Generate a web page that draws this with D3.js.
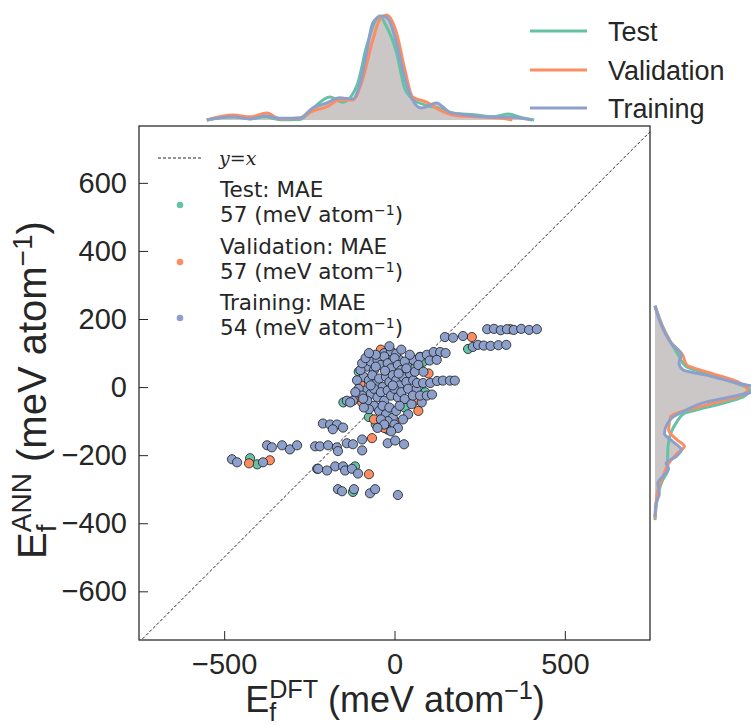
<!DOCTYPE html>
<html lang="en">
<head>
<meta charset="utf-8">
<title>ANN vs DFT formation energy</title>
<script type="text/javascript" src="https://cdn.jsdelivr.net/npm/d3@7"></script>
<style>
  body { margin: 0; background: #fff; }
  svg { display: block; }
</style>
</head>
<body>
<div id="chart"></div>
<script type="text/javascript">
// series names and colours (Set2)
const seriesNames = ["Test", "Validation", "Training"];
const seriesColors = ["#66c2a5", "#fc8d62", "#8da0cb"];
const maeValues = [57, 57, 54];

const xTicks = [-500, 0, 500];
const yTicks = [-600, -400, -200, 0, 200, 400, 600];

// scatter points, [E_DFT, E_ANN] in meV/atom
const testPoints = [
  [-424, -209], [-403, -227], [-116, -233], [-122, -308], [84, 74], [216, 112],
  [-100, 15], [-55, -110], [50, 60], [-20, -125], [-150, -45], [30, -60],
  [-105, 45], [90, -15], [-75, -88]
];
const validationPoints = [
  [-427, -224], [-366, -215], [-75, -256], [-34, 95], [75, 89], [227, 147],
  [-66, -150], [-95, -45], [-60, -95], [-30, -120], [60, -40], [-100, 10],
  [340, 170], [0, -100], [-112, -30], [70, -70], [-40, 110], [100, 40]
];
const trainingPoints = [
  // upper right strings
  [148, 147], [172, 145], [201, 150], [230, 118], [245, 124],
  [272, 170], [292, 171], [312, 167], [330, 170], [350, 168], [372, 171],
  [395, 168], [418, 170], [262, 122], [282, 121], [305, 123], [328, 124],
  // upper arm
  [-34, 95], [-20, 95], [-5, 90], [15, 80], [37, 68], [55, 80], [75, 88],
  [95, 95], [115, 103], [134, 103], [103, 78], [124, 80], [-30, 100],
  [-10, 105], [5, 98], [150, 100],
  // dense core
  [-80, 60], [-70, 75], [-60, 50], [-50, 80], [-40, 65], [-30, 90], [-20, 70],
  [-10, 55], [0, 85], [10, 65], [20, 50], [30, 75], [-90, 30], [-75, 20],
  [-65, 35], [-55, 10], [-45, 25], [-35, 0], [-25, 30], [-15, 15], [-5, 35],
  [5, 20], [15, 5], [25, 30], [35, 15], [45, 40], [-85, -10], [-70, -20],
  [-60, -5], [-50, -30], [-40, -15], [-30, -40], [-20, -10], [-10, -25],
  [0, -5], [10, -30], [20, -15], [30, -35], [40, -5], [-60, -55], [-45, -70],
  [-35, -55], [-25, -80], [-15, -60], [-5, -90], [5, -70], [15, -55],
  [-20, -100], [-40, -95], [0, -110], [-70, 5], [-5, 5], [12, 40], [-28, 48],
  [-100, 50], [-95, 70], [-85, 85], [-110, 20], [-105, -5], [-95, -25],
  [-80, -40], [-75, -65], [-90, -60], [55, 20], [60, 45], [65, -5],
  [50, -50], [40, -80], [25, -95], [10, -120], [-10, -130], [-30, -110],
  [-50, -120], [70, 65], [-55, 95], [-75, 100], [-15, 120], [20, 110],
  [45, 95], [85, 45], [80, -45], [-115, -15], [-55, 60], [35, 55],
  // right arm
  [66, 12], [84, 12], [105, 12], [125, 18], [142, 19], [163, 19], [177, 19],
  [54, -25], [75, -25], [95, -25], [110, -22],
  // left arm
  [-140, -40], [-122, -40], [-92, -34], [-130, -45],
  // lower groups
  [-210, -107], [-189, -110], [-169, -110], [-151, -119], [-181, -124],
  [-374, -171], [-360, -177], [-330, -171], [-307, -183], [-286, -171],
  [-233, -174], [-219, -174], [-195, -171], [-169, -177], [-140, -165],
  [-122, -168], [-95, -154], [-95, -186], [-166, -188], [-20, -165],
  [2, -157], [28, -168],
  [-477, -212], [-462, -221], [-386, -221],
  [-227, -240], [-224, -240], [-198, -245], [-174, -233], [-151, -233],
  [-145, -245], [-125, -240], [-107, -254],
  [-166, -300], [-154, -306], [-119, -300], [-72, -312], [-57, -300], [10, -317]
];

// marginal densities, [E, relative density]
const testTopKde = [
  [-551, 0], [-474, 0.03], [-424, 0.012], [-380, 0.03], [-336, 0.003], [-278, 0.005],
  [-240, 0.11], [-190, 0.22], [-152, 0.17], [-110, 0.33], [-82, 0.7], [-55, 0.95],
  [-44, 0.99], [-25, 0.9], [6, 0.64], [29, 0.31], [53, 0.2], [94, 0.14],
  [132, 0.11], [170, 0.067], [240, 0.048], [287, 0.03], [336, 0.057], [366, 0.03], [410, 0]
];
const validationTopKde = [
  [-551, 0], [-474, 0.048], [-424, 0.03], [-375, 0.067], [-336, 0.01], [-278, 0.019],
  [-240, 0.085], [-199, 0.124], [-161, 0.19], [-123, 0.19], [-94, 0.38], [-64, 0.76],
  [-41, 0.97], [-23, 1.0], [6, 0.83], [29, 0.5], [53, 0.22], [94, 0.17],
  [132, 0.095], [170, 0.048], [240, 0.03], [308, 0.02], [346, 0]
];
const trainingTopKde = [
  [-551, 0], [-474, 0.031], [-424, 0.01], [-380, 0.038], [-336, 0.016], [-278, 0.019],
  [-240, 0.114], [-199, 0.162], [-161, 0.212], [-123, 0.2], [-102, 0.333], [-82, 0.638],
  [-64, 0.924], [-38, 0.99], [-20, 0.97], [6, 0.733], [29, 0.41], [53, 0.19],
  [79, 0.114], [123, 0.162], [161, 0.076], [190, 0.057], [240, 0.038], [287, 0.029],
  [336, 0.029], [404, 0]
];
const testRightKde = [
  [239, 0], [180, 0.07], [130, 0.152], [91, 0.229], [62, 0.29], [36, 0.533],
  [7, 0.81], [-8, 0.9], [-27, 0.85], [-67, 0.4], [-77, 0.28], [-106, 0.2],
  [-136, 0.15], [-174, 0.124], [-214, 0.12], [-244, 0.12], [-273, 0.073],
  [-313, 0.03], [-391, 0]
];
const validationRightKde = [
  [239, 0], [198, 0.045], [159, 0.1], [130, 0.155], [95, 0.262], [66, 0.3],
  [41, 0.533], [12, 0.81], [-8, 0.88], [-27, 0.8], [-37, 0.69], [-62, 0.37],
  [-86, 0.15], [-126, 0.13], [-155, 0.21], [-174, 0.28], [-195, 0.21],
  [-224, 0.13], [-254, 0.086], [-303, 0.026], [-342, 0.01], [-386, 0]
];
const trainingRightKde = [
  [239, 0], [198, 0.041], [159, 0.095], [130, 0.152], [95, 0.248], [71, 0.229],
  [51, 0.264], [32, 0.533], [12, 0.78], [-5, 1.0], [-27, 0.75], [-47, 0.45],
  [-67, 0.3], [-86, 0.18], [-106, 0.12], [-136, 0.09], [-155, 0.15],
  [-185, 0.25], [-204, 0.2], [-224, 0.105], [-239, 0.13], [-260, 0.08],
  [-283, 0.026], [-313, 0.041], [-342, 0.01], [-381, 0]
];

function drawChart() {
  const w = 751;
  const h = 725;
  const ink = "#262626";
  const tickFont = "'Liberation Sans', Arial, sans-serif";

  const svg = d3.select("#chart")
    .append("svg")
    .attr("width", w)
    .attr("height", h);

  const xScale = d3.scaleLinear().domain([-750, 750]).range([139, 650]);
  const yScale = d3.scaleLinear().domain([-743, 767]).range([640, 126]);

  // marginal scales
  const topScale = d3.scaleLinear().domain([0, 1]).range([120, 15]);
  const rightScale = d3.scaleLinear().domain([0, 1]).range([655, 760]);

  const topSets = [testTopKde, validationTopKde, trainingTopKde];
  const rightSets = [testRightKde, validationRightKde, trainingRightKde];

  // top marginal
  const topArea = d3.area()
    .x((d) => xScale(d[0]))
    .y0(topScale(0))
    .y1((d) => topScale(d[1]))
    .curve(d3.curveMonotoneX);
  const topLine = d3.line()
    .x((d) => xScale(d[0]))
    .y((d) => topScale(d[1]))
    .curve(d3.curveMonotoneX);

  svg.append("path")
    .datum(trainingTopKde)
    .attr("d", topArea)
    .attr("fill", "#cbc7c7");

  svg.append("g")
    .selectAll("path")
    .data(topSets)
    .enter()
    .append("path")
      .attr("d", topLine)
      .attr("fill", "none")
      .attr("stroke", (d, i) => seriesColors[i])
      .attr("stroke-width", 3)
      .attr("stroke-linejoin", "round");

  // right marginal
  const rightArea = d3.area()
    .y((d) => yScale(d[0]))
    .x0(rightScale(0))
    .x1((d) => rightScale(d[1]))
    .curve(d3.curveMonotoneY);
  const rightLine = d3.line()
    .y((d) => yScale(d[0]))
    .x((d) => rightScale(d[1]))
    .curve(d3.curveMonotoneY);

  svg.append("path")
    .datum(trainingRightKde.slice().reverse())
    .attr("d", rightArea)
    .attr("fill", "#cbc7c7");

  svg.append("g")
    .selectAll("path")
    .data(rightSets.map((s) => s.slice().reverse()))
    .enter()
    .append("path")
      .attr("d", rightLine)
      .attr("fill", "none")
      .attr("stroke", (d, i) => seriesColors[i])
      .attr("stroke-width", 3)
      .attr("stroke-linejoin", "round");

  // main panel
  svg.append("clipPath")
    .attr("id", "main-area")
    .append("rect")
    .attr("x", 139)
    .attr("y", 126)
    .attr("width", 511)
    .attr("height", 514);

  svg.append("line")
    .attr("clip-path", "url(#main-area)")
    .attr("x1", xScale(-750)).attr("y1", yScale(-750))
    .attr("x2", xScale(767)).attr("y2", yScale(767))
    .attr("stroke", ink)
    .attr("stroke-width", 1)
    .attr("stroke-dasharray", "3,2");

  const pointSets = [testPoints, validationPoints, trainingPoints];
  pointSets.forEach((pts, i) => {
    svg.append("g")
      .attr("clip-path", "url(#main-area)")
      .selectAll("circle")
      .data(pts)
      .enter()
      .append("circle")
        .attr("cx", (d) => xScale(d[0]))
        .attr("cy", (d) => yScale(d[1]))
        .attr("r", 4.6)
        .attr("fill", seriesColors[i])
        .attr("stroke", "#1a1a1a")
        .attr("stroke-width", 0.8);
  });

  // axes
  const xAxis = d3.axisBottom(xScale)
    .tickValues(xTicks)
    .tickSizeInner(-9)
    .tickSizeOuter(0)
    .tickPadding(13)
    .tickFormat((d) => d < 0 ? "\u2212" + Math.abs(d) : d);
  const yAxis = d3.axisLeft(yScale)
    .tickValues(yTicks)
    .tickSizeInner(-9)
    .tickSizeOuter(0)
    .tickPadding(12)
    .tickFormat((d) => d < 0 ? "\u2212" + Math.abs(d) : d);

  const gx = svg.append("g")
    .attr("transform", "translate(0,640)")
    .call(xAxis);
  const gy = svg.append("g")
    .attr("transform", "translate(139,0)")
    .call(yAxis);

  [gx, gy].forEach((g) => {
    g.select(".domain").remove();
    g.selectAll(".tick line").attr("stroke", ink).attr("stroke-width", 1);
    g.selectAll(".tick text")
      .attr("fill", ink)
      .style("font-family", tickFont)
      .style("font-size", "29px");
  });

  // frame
  svg.append("rect")
    .attr("x", 139)
    .attr("y", 126)
    .attr("width", 511)
    .attr("height", 514)
    .attr("fill", "none")
    .attr("stroke", ink)
    .attr("stroke-width", 1.25);

  // axis labels with sub/superscripts
  function addLabel(sel, sup, fs) {
    sel.style("font-family", tickFont)
      .style("font-size", fs + "px")
      .attr("fill", ink);
    sel.append("tspan").text("E");
    sel.append("tspan").text("f")
      .style("font-size", (fs * 0.7) + "px")
      .attr("dy", fs * 0.26);
    sel.append("tspan").text(sup)
      .style("font-size", (fs * 0.7) + "px")
      .attr("dx", -fs * 0.7 * 0.278)
      .attr("dy", -fs * 0.64);
    sel.append("tspan").text(" (meV atom")
      .attr("dy", fs * 0.38);
    sel.append("tspan").text("\u22121")
      .style("font-size", (fs * 0.7) + "px")
      .attr("dy", -fs * 0.36);
    sel.append("tspan").text(")")
      .attr("dy", fs * 0.36);
  }

  addLabel(svg.append("text")
    .attr("x", 395)
    .attr("y", 712)
    .attr("text-anchor", "middle"), "DFT", 36);

  addLabel(svg.append("text")
    .attr("transform", "translate(46,390) rotate(-90)")
    .attr("text-anchor", "middle"), "ANN", 40);

  // legend inside the panel
  const legFont = "'DejaVu Sans', sans-serif";
  svg.append("line")
    .attr("x1", 158).attr("x2", 202)
    .attr("y1", 158).attr("y2", 158)
    .attr("stroke", ink)
    .attr("stroke-width", 1)
    .attr("stroke-dasharray", "3,2");
  svg.append("text")
    .attr("x", 219)
    .attr("y", 165)
    .style("font-family", "'DejaVu Serif', serif")
    .style("font-style", "italic")
    .style("font-size", "19px")
    .attr("fill", ink)
    .text("y=x");

  const legRows = [197, 254, 310];
  seriesNames.forEach((name, i) => {
    svg.append("circle")
      .attr("cx", 180)
      .attr("cy", legRows[i] + 8)
      .attr("r", 3.3)
      .attr("fill", seriesColors[i]);
    svg.append("text")
      .attr("x", 220)
      .attr("y", legRows[i])
      .style("font-family", legFont)
      .style("font-size", "21.5px")
      .attr("fill", ink)
      .text(name + ": MAE");
    const t2 = svg.append("text")
      .attr("x", 220)
      .attr("y", legRows[i] + 25)
      .style("font-family", legFont)
      .style("font-size", "21.5px")
      .attr("fill", ink);
    t2.append("tspan").text(maeValues[i] + " (meV atom");
    t2.append("tspan").text("\u22121")
      .style("font-size", "14px")
      .attr("dy", -7);
    t2.append("tspan").text(")")
      .attr("dy", 7);
  });

  // legend for the marginal curves
  const topLegY = [31, 70, 108];
  seriesNames.forEach((name, i) => {
    svg.append("line")
      .attr("x1", 530).attr("x2", 587)
      .attr("y1", topLegY[i]).attr("y2", topLegY[i])
      .attr("stroke", seriesColors[i])
      .attr("stroke-width", 3);
    svg.append("text")
      .attr("x", 608)
      .attr("y", topLegY[i] + 9.5)
      .style("font-family", tickFont)
      .style("font-size", "27px")
      .attr("fill", ink)
      .text(name);
  });
}

drawChart();
</script>
</body>
</html>
